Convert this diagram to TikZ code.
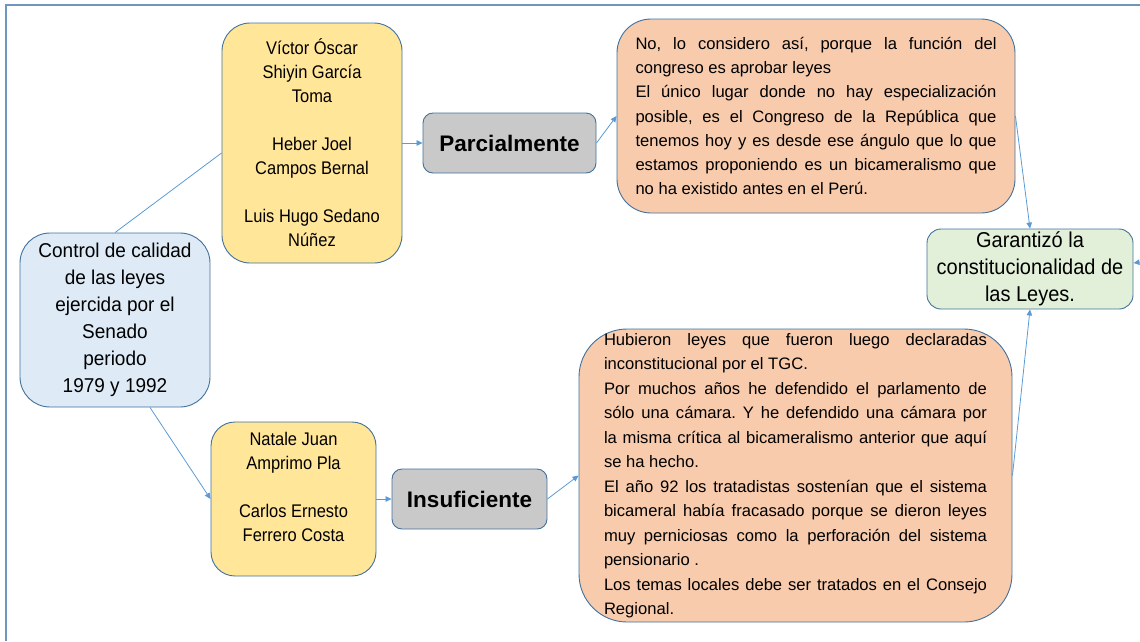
\documentclass[tikz,border=0pt]{standalone}
\usepackage{fontspec}
\setmainfont{Liberation Sans}
\newfontfamily\namefont{Liberation Sans}[FakeStretch=0.9]
\newfontfamily\ctrlfont{Liberation Sans}[FakeStretch=0.95]
\newfontfamily\resultfont{Liberation Sans}[FakeStretch=0.93]
\usetikzlibrary{arrows.meta,positioning}
\definecolor{boxline}{RGB}{65,113,156}
\definecolor{linkblue}{RGB}{91,155,213}
\definecolor{framecol}{RGB}{110,150,190}
\definecolor{fillyellow}{RGB}{255,230,153}
\definecolor{fillblue}{RGB}{222,235,247}
\definecolor{fillgray}{RGB}{201,201,201}
\definecolor{fillorange}{RGB}{248,203,173}
\definecolor{fillgreen}{RGB}{226,240,217}
\setlength{\parindent}{0pt}
\tolerance=9999
\hbadness=10000
\frenchspacing

\begin{document}
\begin{tikzpicture}[x=1pt,y=-1pt]
\tikzset{
  box/.style={draw=boxline,line width=0.9pt,inner sep=0pt,align=center},
  namebox/.style={box,fill=fillyellow,rounded corners=28pt,font=\namefont\fontsize{18.3}{24}\selectfont},
  catbox/.style={box,fill=fillgray,rounded corners=10pt,font=\fontsize{22.5}{27}\selectfont\bfseries},
  respbox/.style={box,fill=fillorange,align=justify},
  link/.style={linkblue,line width=0.8pt},
  arrow/.style={link,-{Triangle[length=6pt,width=5.5pt]}}
}
\useasboundingbox (0,0) rectangle (1140,641);
\draw[framecol,line width=2pt] (6,641) -- (6,5) -- (1140,5);
\node[box,fill=fillblue,rounded corners=30pt,minimum width=190pt,minimum height=174pt,font=\ctrlfont\fontsize{20}{27}\selectfont] (n_ctrl) at (115,320) {Control de calidad\\de las leyes\\ejercida por el\\Senado\\periodo\\1979 y 1992};
\node[namebox,minimum width=180pt,minimum height=240pt] (n_jur1) at (312,143) {Víctor Óscar\\Shiyin García\\Toma\\[24pt]Heber Joel\\Campos Bernal\\[24pt]Luis Hugo Sedano\\Núñez};
\node[namebox,rounded corners=24pt,minimum width=165pt,minimum height=154pt] (n_jur2) at (293.5,499) {Natale Juan\\Amprimo Pla\\[24pt]Carlos Ernesto\\Ferrero Costa\\\mbox{}};
\node[catbox,minimum width=173pt,minimum height=60pt] (n_parc) at (509.5,143) {Parcialmente};
\node[catbox,minimum width=155pt,minimum height=60pt] (n_insu) at (469.5,499) {Insuficiente};
\node[respbox,rounded corners=34pt,text width=361pt,inner xsep=18.5pt,minimum height=194pt,font=\fontsize{16.6}{24.2}\selectfont] (n_resp1) at (816,116) {No, lo considero así, porque la función del\linebreak congreso es aprobar leyes\\
El único lugar donde no hay especialización\linebreak posible, es el Congreso de la República que\linebreak tenemos hoy y es desde ese ángulo que lo que\linebreak estamos proponiendo es un bicameralismo que\linebreak no ha existido antes en el Perú.};
\node[respbox,rounded corners=48pt,text width=383pt,inner xsep=25pt,minimum height=293pt,font=\fontsize{16.6}{24.5}\selectfont] (n_resp2) at (795.5,475.5) {Hubieron leyes que fueron luego declaradas\linebreak inconstitucional por el TGC.\\
Por muchos años he defendido el parlamento de\linebreak sólo una cámara. Y he defendido una cámara por\linebreak la misma crítica al bicameralismo anterior que aquí\linebreak se ha hecho.\\
El año 92 los tratadistas sostenían que el sistema\linebreak bicameral había fracasado porque se dieron leyes\linebreak muy perniciosas como la perforación del sistema\linebreak pensionario .\\
Los temas locales debe ser tratados en el Consejo\linebreak Regional.};
\node[box,fill=fillgreen,rounded corners=14pt,minimum width=206pt,minimum height=80pt,font=\resultfont\fontsize{21.5}{27}\selectfont] (n_gar) at (1030,269) {Garantizó la\\constitucionalidad de\\las Leyes.};
\coordinate (c_edge) at (1141,262);
\draw[link] (n_ctrl.north) -- ([yshift=-10pt]n_jur1.west);
\draw[arrow] ([xshift=35pt]n_ctrl.south) -- (n_jur2.west);
\draw[arrow] (n_jur1.east) -- (n_parc.west);
\draw[arrow] (n_parc.east) -- (n_resp1.west);
\draw[arrow] (n_resp1.east) -- (n_gar.north);
\draw[arrow] (n_jur2.east) -- (n_insu.west);
\draw[arrow] (n_insu.east) -- (n_resp2.west);
\draw[arrow] (n_resp2.east) -- (n_gar.south);
\draw[arrow] (c_edge) -- ([yshift=6pt]n_gar.east);
\end{tikzpicture}
\end{document}
